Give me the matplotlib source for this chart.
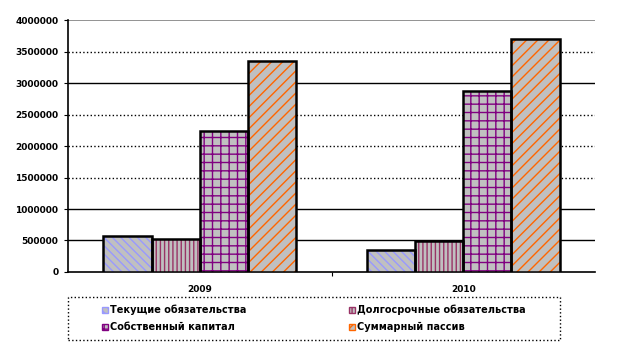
import numpy as np
import matplotlib.pyplot as plt
from matplotlib.patches import Patch, Rectangle

# данные
years = ['2009', '2010']
series = ['Текущие обязательства', 'Долгосрочные обязательства',
          'Собственный капитал', 'Суммарный пассив']
tekushie = [570000, 350000]
dolgosrochnye = [525000, 490000]
sobstvennyi = [2240000, 2870000]
summarnyi = [3350000, 3700000]
values = [tekushie, dolgosrochnye, sobstvennyi, summarnyi]

hatches = ['\\\\\\\\', '||||', '++', '///']
hcolors = ['#9999ff', '#993366', '#800080', '#ff6600']

plt.rcParams['font.family'] = ['DejaVu Sans']
plt.rcParams['hatch.linewidth'] = 1.0

fig = plt.figure(figsize=(6.38, 3.52), dpi=100)
ax = fig.add_axes([0.1066, 0.2273, 0.826, 0.7157])

x = np.arange(len(years))
w = 0.183
for i, vals in enumerate(values):
    pos = x + (i - 1.5) * w
    ax.bar(pos, vals, w, color='#c0c0c0', edgecolor=hcolors[i],
           hatch=hatches[i], linewidth=0, zorder=3)
    ax.bar(pos, vals, w, fill=False, edgecolor='black', linewidth=1.8, zorder=4)

ax.set_xlim(-0.5, 1.5)
ax.set_ylim(0, 4000000)
ticks = np.arange(0, 4000001, 500000)
ax.set_yticks(ticks)
ax.set_yticklabels([str(t) for t in ticks], fontsize=6.5, fontweight='bold')
ax.set_xticks([0.5])
ax.set_xticklabels([''])
ax.tick_params(axis='x', length=3, direction='out')
ax.tick_params(axis='y', length=3, direction='out', pad=4)
for xi, yr in zip(x, years):
    ax.text(xi, -0.05, yr, transform=ax.get_xaxis_transform(), ha='center',
            va='top', fontsize=6.5, fontweight='bold')

# сетка
styles = {500000: '-', 1000000: '-', 1500000: ':', 2000000: ':',
          2500000: ':', 3000000: '-', 3500000: ':'}
for t, ls in styles.items():
    ax.axhline(t, color='black', linestyle=ls, linewidth=1.0, zorder=1)
ax.axhline(4000000, color='#808080', linewidth=1.2, zorder=1)

for s in ['top', 'right']:
    ax.spines[s].set_visible(False)
ax.spines['left'].set_linewidth(1.2)
ax.spines['bottom'].set_linewidth(1.2)

# легенда
handles = [Patch(facecolor='#c0c0c0', edgecolor=hcolors[i], hatch=hatches[i])
           for i in range(4)]
order = [0, 2, 1, 3]
leg = fig.legend([handles[i] for i in order], [series[i] for i in order],
                 ncol=2, loc='center', bbox_to_anchor=(0.492, 0.095),
                 prop={'weight': 'bold', 'size': 7}, frameon=False,
                 handlelength=0.6, handleheight=0.6, handletextpad=0.25,
                 borderaxespad=0, columnspacing=10.5, labelspacing=0.75,
                 borderpad=0)
fig.patches.append(Rectangle((0.1066, 0.034), 0.771, 0.122, fill=False,
                             edgecolor='black', linestyle=':', linewidth=1.0,
                             transform=fig.transFigure))

fig.savefig('out.png', dpi=100)
